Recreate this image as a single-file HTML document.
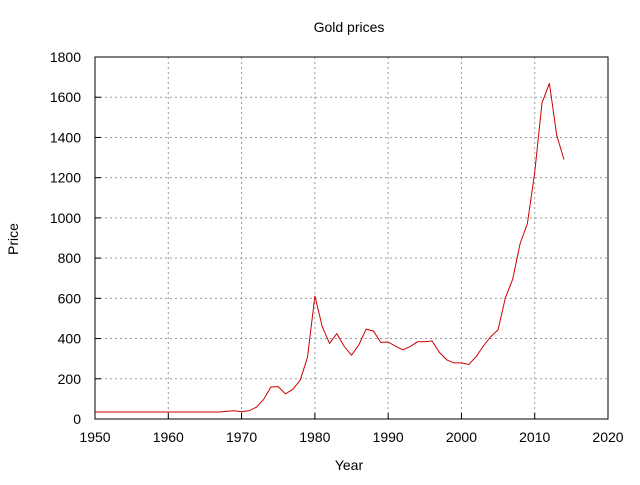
<!DOCTYPE html>
<html><head><meta charset="utf-8"><style>
body{margin:0;background:#fff;width:640px;height:480px;overflow:hidden;font-family:"Liberation Sans",sans-serif}
text{font-family:"Liberation Sans",sans-serif;font-size:14px;fill:#000}
</style></head><body>
<svg id="chart" width="640" height="480">
<rect x="0" y="0" width="640" height="480" fill="#fff"/>
<text x="349" y="32" text-anchor="middle">Gold prices</text>
<text x="349" y="470" text-anchor="middle">Year</text>
<text x="18" y="239" text-anchor="middle" transform="rotate(-90 18 239)">Price</text>
<g id="grid"></g><g id="ticks"></g>
<rect x="95" y="57" width="513" height="362" fill="none" stroke="#000" stroke-width="1"/>
<path id="line" fill="none" stroke="#d00000" stroke-width="1"/>
</svg>
<script>
const years=[1950,1951,1952,1953,1954,1955,1956,1957,1958,1959,1960,1961,1962,1963,1964,1965,1966,1967,1968,1969,1970,1971,1972,1973,1974,1975,1976,1977,1978,1979,1980,1981,1982,1983,1984,1985,1986,1987,1988,1989,1990,1991,1992,1993,1994,1995,1996,1997,1998,1999,2000,2001,2002,2003,2004,2005,2006,2007,2008,2009,2010,2011,2012,2013,2014];
const prices=[35,35,35,35,35,35,35,35,35,35,35,35,35,35,35,35,35,35,39,41,36,41,58,97,159,161,125,148,193,307,612,460,376,424,361,317,368,447,437,381,383,362,344,360,384,384,388,331,294,279,279,271,310,363,409,444,603,695,872,972,1225,1572,1669,1411,1290];
const xTicks=[1950,1960,1970,1980,1990,2000,2010,2020];
const yTicks=[0,200,400,600,800,1000,1200,1400,1600,1800];
const X0=95,X1=608,Y0=419,Y1=57;
const xs=v=>X0+(v-1950)/70*(X1-X0);
const ys=v=>Y0-v/1800*(Y0-Y1);
const NS="http://www.w3.org/2000/svg";
const grid=document.getElementById('grid'),ticks=document.getElementById('ticks');
function mk(tag,attrs,parent){const e=document.createElementNS(NS,tag);for(const k in attrs)e.setAttribute(k,attrs[k]);parent.appendChild(e);return e;}
xTicks.forEach(t=>{const x=xs(t);
 if(t>1950&&t<2020){const g=mk('line',{x1:x,x2:x,y1:Y1,y2:Y0,stroke:'#999','stroke-dasharray':'2,3'},grid);
 
 }
 const tk=mk('line',{x1:x,x2:x,y1:Y0,y2:Y0-6,stroke:'#000'},ticks);
 
 
 const tx=mk('text',{x:x,y:Y0+23,'text-anchor':'middle'},ticks);tx.textContent=t;
 
 
});
yTicks.forEach(t=>{const y=ys(t);
 if(t>0&&t<1800){const g=mk('line',{x1:X0,x2:X1,y1:y,y2:y,stroke:'#999','stroke-dasharray':'2,3'},grid);
 
 }
 const tk=mk('line',{x1:X0,x2:X0+6,y1:y,y2:y,stroke:'#000'},ticks);
 
 
 const tx=mk('text',{x:81,y:y+5,'text-anchor':'end'},ticks);tx.textContent=t;
 
 
});
document.getElementById('line').setAttribute('d',years.map((y,i)=>(i?'L':'M')+xs(y).toFixed(1)+','+ys(prices[i]).toFixed(1)).join(''));
</script>
</body></html>
